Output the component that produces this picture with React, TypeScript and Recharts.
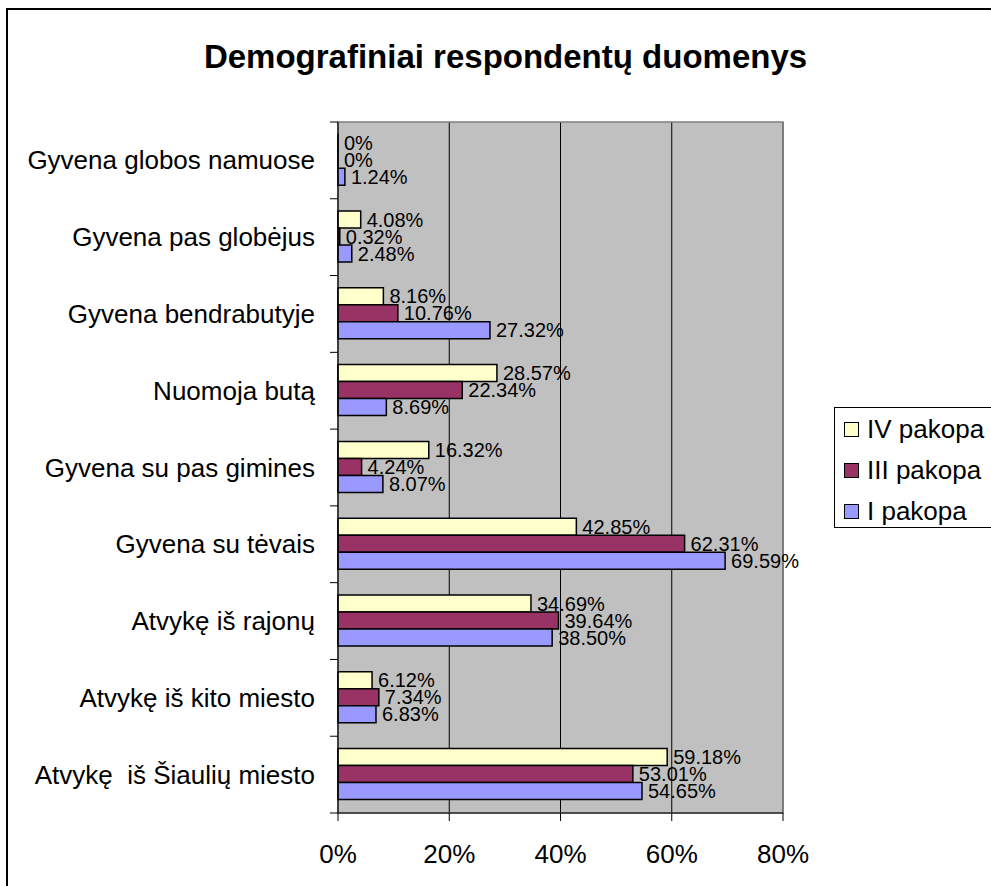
import React from "react";
import {
  BarChart, Bar, XAxis, YAxis, CartesianGrid, LabelList, ReferenceArea,
} from "recharts";

const FONT = "'Liberation Sans', Arial, sans-serif";

const categories = [
  "Gyvena globos namuose",
  "Gyvena pas globėjus",
  "Gyvena bendrabutyje",
  "Nuomoja butą",
  "Gyvena su pas gimines",
  "Gyvena su tėvais",
  "Atvykę iš rajonų",
  "Atvykę iš kito miesto",
  "Atvykę  iš Šiaulių miesto",
];

const pakopaIV  = [0, 4.08, 8.16, 28.57, 16.32, 42.85, 34.69, 6.12, 59.18];
const pakopaIII = [0, 0.32, 10.76, 22.34, 4.24, 62.31, 39.64, 7.34, 53.01];
const pakopaI   = [1.24, 2.48, 27.32, 8.69, 8.07, 69.59, 38.5, 6.83, 54.65];

const xTicks = [0, 20, 40, 60, 80];

const SERIES = [
  { key: "iv",  name: "IV pakopa",  color: "#FFFFCC" },
  { key: "iii", name: "III pakopa", color: "#993366" },
  { key: "i",   name: "I pakopa",   color: "#9999FF" },
];

const data = categories.map((c, i) => ({
  cat: c,
  iv: pakopaIV[i],
  iii: pakopaIII[i],
  i: pakopaI[i],
}));

const pct = (v: unknown) => {
  const n = Number(v);
  return n === 0 ? "0%" : `${n.toFixed(2)}%`;
};

const TICK_MARGIN = 23;

function CatTick(props: any) {
  const { x, y, payload, index } = props;
  const half = payload?.offset ?? 38.4;
  const ax = x + TICK_MARGIN;
  return (
    <g>
      <line x1={ax - 8} x2={ax} y1={y - half} y2={y - half} stroke="#000" strokeWidth={1} />
      {index === categories.length - 1 && (
        <line x1={ax - 8} x2={ax} y1={y + half} y2={y + half} stroke="#000" strokeWidth={1} />
      )}
      <text x={x} y={y} dy="0.35em" textAnchor="end" fill="#000"
        style={{ fontFamily: FONT, fontSize: 26, whiteSpace: "pre" }}>
        {payload.value}
      </text>
    </g>
  );
}

export default function App() {
  return (
    <div style={{ position: "absolute", left: 0, top: 0, width: 991, height: 886, overflow: "hidden", background: "#fff" }}>
      {/* outer frame */}
      <div style={{ position: "absolute", left: 6, top: 8, width: 1000, height: 900, border: "2px solid #000" }} />

      <div style={{
        position: "absolute", left: 0, top: 38, width: 1011, textAlign: "center",
        fontFamily: FONT, fontWeight: "bold", fontSize: 33, lineHeight: "38px", color: "#000",
      }}>
        Demografiniai respondentų duomenys
      </div>

      <div style={{ position: "absolute", left: 0, top: 0 }}>
        <BarChart
          width={991}
          height={886}
          data={data}
          layout="vertical"
          margin={{ top: 122, right: 208, left: 0, bottom: 0 }}
          barCategoryGap="16%"
          barGap={0}
        >
          <CartesianGrid horizontal={false} vertical stroke="#000" fill="#C0C0C0" />
          <ReferenceArea x1={0} x2={80} fill="none" stroke="#808080" strokeWidth={1.5} ifOverflow="extendDomain" />
          <XAxis
            type="number"
            domain={[0, 80]}
            ticks={xTicks}
            tickFormatter={(v) => `${v}%`}
            height={73}
            stroke="#000"
            tickSize={8}
            tickMargin={24}
            tick={{ fill: "#000", fontSize: 26, fontFamily: FONT }}
            axisLine={{ stroke: "#000" }}
          />
          <YAxis
            type="category"
            dataKey="cat"
            width={338}
            tickLine={false}
            tickSize={0}
            tickMargin={TICK_MARGIN}
            axisLine={{ stroke: "#000" }}
            interval={0}
            tick={<CatTick />}
          />
          {SERIES.map((s) => (
            <Bar key={s.key} dataKey={s.key} name={s.name} fill={s.color}
              stroke="#000" strokeWidth={1.5} minPointSize={0.01} isAnimationActive={false}>
              <LabelList dataKey={s.key} position="right" offset={6} formatter={pct}
                style={{ fill: "#000", fontSize: 20, fontFamily: FONT }} />
            </Bar>
          ))}
        </BarChart>
      </div>

      {/* legend */}
      <div style={{
        position: "absolute", left: 834, top: 407, width: 160, height: 121,
        border: "1px solid #000", background: "#fff", boxSizing: "border-box",
        fontFamily: FONT, fontSize: 26, color: "#000",
      }}>
        {SERIES.map((s, i) => (
          <div key={s.key} style={{ position: "absolute", left: 9, top: 6 + i * 41, height: 30, display: "flex", alignItems: "center" }}>
            <span style={{ display: "inline-block", width: 13, height: 13, background: s.color, border: "1.5px solid #000", marginRight: 8 }} />
            <span>{s.name}</span>
          </div>
        ))}
      </div>
    </div>
  );
}
